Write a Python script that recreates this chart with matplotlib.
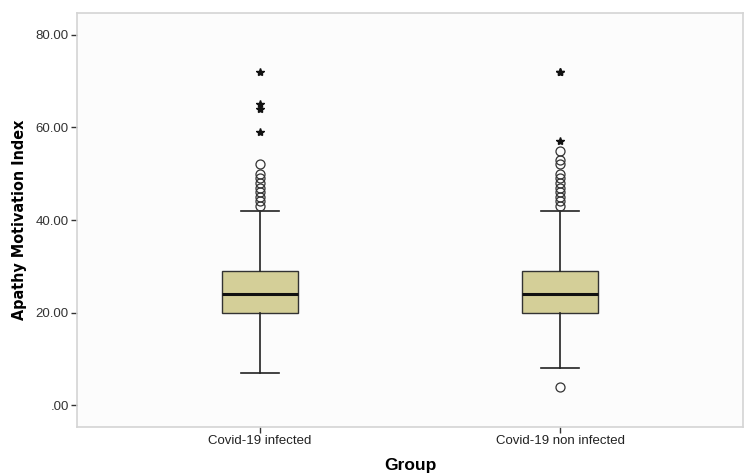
import matplotlib
matplotlib.use("Agg")
import matplotlib.pyplot as plt

groups = ["Covid-19 infected", "Covid-19 non infected"]
q1 = [20, 20]
med = [24, 24]
q3 = [29, 29]
whislo = [7, 8]
whishi = [42, 42]
circles = [[43, 44, 45, 46, 47, 48, 49, 50, 52],
           [4, 43, 44, 45, 46, 47, 48, 49, 50, 52, 53, 55]]
stars = [[59, 64, 65, 72],
         [57, 72, 72]]
yticks = [0, 20, 40, 60, 80]
ytick_labels = [".00", "20.00", "40.00", "60.00", "80.00"]

plt.rcParams["font.family"] = ["Liberation Sans", "DejaVu Sans"]

fig = plt.figure(figsize=(7.5, 4.76), dpi=100)
ax = fig.add_axes([0.1027, 0.1029, 0.888, 0.8698])
ax.set_facecolor("#fcfcfc")

stats = []
for i in range(len(groups)):
    stats.append({"med": med[i], "q1": q1[i], "q3": q3[i],
                  "whislo": whislo[i], "whishi": whishi[i], "fliers": []})

ax.bxp(stats, positions=[1, 2], widths=0.253, patch_artist=True, showfliers=False,
       boxprops=dict(facecolor="#d4cf98", edgecolor="#333333", linewidth=1.0),
       medianprops=dict(color="#111111", linewidth=2.2),
       whiskerprops=dict(color="#222222", linewidth=1.2),
       capprops=dict(color="#222222", linewidth=1.2))

for i in range(len(groups)):
    ax.plot([i + 1] * len(circles[i]), circles[i], "o", ms=6.5, mfc="none",
            mec="#333333", mew=0.9, ls="none")
    ax.plot([i + 1] * len(stars[i]), stars[i], "*", ms=6, color="#111111", ls="none")

ax.set_xlim(0.39, 2.61)
ax.set_ylim(-4.7, 84.7)
ax.set_yticks(yticks)
ax.set_yticklabels(ytick_labels, fontsize=9.5, color="#333333")
ax.set_xticks([1, 2])
ax.set_xticklabels(groups, fontsize=9.5, color="#222222")
ax.tick_params(axis="both", direction="out", length=4, width=1, color="#333333", pad=2)

for s in ax.spines.values():
    s.set_color("#d4d4d4")
    s.set_linewidth(1.2)

ax.set_ylabel("Apathy Motivation Index", fontsize=11.5, fontweight="bold",
              family=["DejaVu Sans"], fontstretch="condensed", labelpad=6)
ax.set_xlabel("Group", fontsize=12.5, fontweight="bold", labelpad=8)

fig.savefig("out.png", dpi=100)
